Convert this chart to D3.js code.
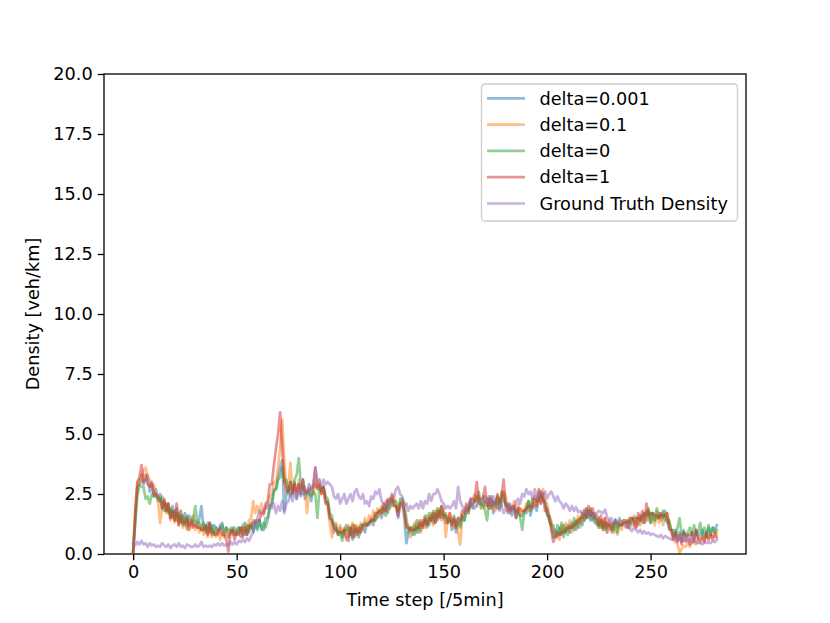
<!DOCTYPE html>
<html>
<head>
<meta charset="utf-8">
<script src="https://cdn.jsdelivr.net/npm/d3@7/dist/d3.min.js"></script>
<style>
  html, body { margin: 0; padding: 0; background: #fff; }
  svg { display: block; font-family: "DejaVu Sans", sans-serif; }
</style>
</head>
<body>
<div id="chart"></div>
<script>
// values, one per 5-min time step (0..282)
var delta0001 = [
  0.1,1.3,2.8,2.9,3.3,2.9,3.1,3.3,2.6,2.9,
  2.4,2.7,2.2,2.5,1.9,2.2,1.8,2.1,1.5,2.0,
  1.4,1.9,1.3,1.8,1.2,1.7,1.1,1.6,1.5,1.2,
  1.4,1.1,1.5,2.0,1.0,1.2,0.9,1.3,0.8,1.2,
  1.1,0.8,1.2,1.3,0.8,1.1,0.7,0.9,1.1,0.8,
  1.0,1.1,0.7,1.2,1.3,0.8,1.1,1.2,0.9,1.3,
  1.0,1.4,1.1,1.0,1.5,1.5,2.0,2.1,2.7,2.7,
  3.2,3.6,3.9,1.8,2.5,2.8,2.4,2.6,3.0,2.3,
  2.9,2.5,3.1,2.3,2.5,2.9,2.2,2.8,2.9,2.7,
  2.9,2.6,2.7,2.1,2.2,1.5,1.4,0.9,1.1,0.8,
  1.1,0.7,1.0,1.2,0.7,1.1,0.6,1.0,1.1,0.7,
  1.0,1.2,0.9,1.3,1.2,1.5,1.2,1.6,1.5,1.8,
  1.5,1.9,2.0,1.7,2.1,2.3,2.0,2.0,1.5,2.0,
  2.2,1.5,0.45,0.9,1.1,0.8,1.2,0.9,1.3,1.0,
  1.2,1.4,1.3,1.2,1.6,1.3,1.7,1.4,1.8,1.5,
  1.6,1.3,1.3,1.5,1.0,1.4,0.9,1.3,1.2,1.6,
  1.4,1.8,1.7,2.2,1.9,2.3,2.4,2.1,2.1,2.0,
  2.2,2.1,1.9,2.4,1.7,2.2,1.9,2.3,2.0,2.5,
  2.0,1.8,2.1,1.6,2.0,1.5,1.9,1.6,1.6,1.8,
  1.7,2.2,1.6,2.1,2.0,1.8,2.4,2.5,2.2,2.2,
  1.7,1.4,1.2,0.7,1.0,0.7,1.1,0.8,1.2,0.9,
  1.2,0.9,1.3,1.0,1.4,1.1,1.5,1.2,1.6,1.5,
  1.8,1.4,1.7,1.3,1.4,1.1,1.4,1.0,1.3,0.9,
  1.2,1.1,0.9,1.4,1.1,1.2,1.2,1.3,1.3,1.4,
  1.1,1.5,1.2,1.5,1.2,1.6,1.3,1.7,1.4,1.8,
  1.3,1.7,1.4,1.5,1.7,1.4,1.8,1.4,1.5,1.0,
  1.0,0.7,1.0,0.6,0.9,0.5,1.0,0.7,0.8,0.8,
  0.9,0.6,1.0,0.7,0.8,1.0,0.7,0.8,1.1,0.8,
  1.1,1.0,1.2
];

var delta01 = [
  0.1,1.7,2.9,3.1,3.0,3.5,3.6,3.2,3.1,2.8,
  2.9,2.5,2.2,1.3,2.0,2.2,1.7,2.1,1.4,1.8,
  1.3,1.7,1.2,1.8,1.1,1.5,1.0,1.4,1.1,1.6,
  1.0,1.3,0.9,1.2,0.8,1.1,0.7,1.1,0.7,1.0,
  0.7,1.0,0.6,0.9,0.7,1.0,0.7,1.1,0.8,0.9,
  0.8,0.9,1.1,0.8,1.2,0.9,1.4,1.5,2.2,1.7,
  2.0,1.7,2.1,1.6,2.0,1.9,2.4,2.5,3.0,3.0,
  3.6,4.4,5.6,3.9,2.8,2.8,3.8,2.5,2.9,2.4,
  3.1,2.7,2.7,2.8,1.7,2.6,2.6,2.5,3.0,2.7,
  3.1,2.5,2.8,2.1,2.0,1.3,0.7,1.1,1.3,0.8,
  1.2,0.8,1.1,0.7,1.2,0.8,1.3,0.9,1.2,0.8,
  1.3,1.0,1.5,1.2,1.6,1.3,1.8,1.4,1.9,1.6,
  2.0,1.7,2.2,1.8,2.3,2.0,2.4,2.0,1.8,2.1,
  2.3,1.7,1.2,1.2,0.7,1.1,1.3,1.0,1.4,0.9,
  1.4,1.1,1.6,1.3,1.7,1.2,1.8,1.5,1.9,1.4,
  1.9,0.7,1.4,1.7,1.3,1.1,1.4,0.9,0.4,1.5,
  1.8,2.0,1.7,2.2,2.3,2.5,2.0,2.4,2.1,1.9,
  2.2,2.3,1.9,2.2,1.9,1.8,2.4,1.9,2.3,2.6,
  2.4,1.8,1.9,1.8,2.2,1.7,2.1,1.6,1.8,1.8,
  2.1,1.8,2.0,2.3,2.0,2.2,2.6,2.1,2.7,2.2,
  2.1,1.6,1.4,0.9,0.9,0.8,0.6,1.2,0.9,1.3,
  1.0,1.4,0.9,1.3,1.2,1.6,1.1,1.7,1.4,1.9,
  1.6,1.8,1.5,1.5,1.4,1.1,1.4,1.0,1.5,0.9,
  1.2,0.9,1.3,1.0,0.8,1.3,1.0,1.4,1.1,1.2,
  1.5,1.2,1.6,1.1,1.5,1.2,1.6,1.3,1.8,1.4,
  1.7,1.4,1.2,1.8,1.3,1.7,1.2,1.6,1.7,1.3,
  1.0,0.6,0.5,0.4,0.05,0.2,0.35,0.3,0.45,0.3,
  0.5,0.45,0.4,0.65,0.45,0.75,0.55,0.85,0.65,0.7,
  0.75,0.7,0.9
];

var delta0 = [
  0.1,1.4,2.4,2.9,2.8,2.8,2.3,2.4,2.1,2.5,
  2.4,2.4,2.3,2.2,2.4,1.8,2.1,1.7,1.9,1.5,
  1.8,1.4,1.7,1.3,1.6,1.2,1.6,1.2,1.3,1.4,
  2.0,1.3,1.3,1.0,1.3,0.9,1.3,0.9,1.2,0.8,
  1.1,1.0,1.0,1.2,0.9,1.1,1.0,1.0,0.9,1.1,
  0.8,1.1,1.0,1.1,0.8,1.2,0.9,1.3,1.0,1.4,
  1.1,1.4,1.0,1.3,1.1,1.4,1.9,2.1,2.6,2.7,
  3.1,3.2,3.6,3.0,3.1,2.5,3.0,2.6,3.1,3.3,
  4.0,2.9,2.8,2.5,2.6,2.5,2.4,2.6,2.5,1.5,
  2.7,2.7,2.8,2.4,2.3,1.7,1.6,1.2,1.2,0.8,
  0.9,0.55,1.0,1.0,1.1,0.8,1.2,0.7,1.0,0.9,
  1.2,1.2,1.3,1.2,1.3,1.4,1.4,1.4,1.7,1.8,
  1.9,1.9,1.6,2.2,1.9,2.3,2.2,2.2,1.8,2.3,
  2.3,2.1,1.5,0.9,1.1,1.1,0.8,1.4,0.9,1.3,
  1.2,1.6,1.1,1.7,1.4,1.8,1.3,1.9,1.6,2.0,
  1.5,1.7,1.4,1.4,1.3,1.6,1.2,1.5,1.1,1.6,
  1.4,1.8,1.9,2.0,2.1,2.2,2.2,2.6,1.9,2.4,
  1.8,1.4,2.3,2.3,2.1,2.0,2.4,1.9,2.6,2.3,
  2.1,2.0,1.9,1.9,1.9,1.8,1.8,1.5,1.0,1.8,
  1.9,2.2,1.8,2.3,2.3,2.2,2.2,2.6,2.3,2.1,
  1.6,1.6,1.2,1.2,0.7,1.2,0.8,1.3,0.7,1.1,
  0.8,1.2,1.1,1.5,1.0,1.4,1.3,1.7,1.4,1.9,
  1.5,1.9,1.4,1.7,1.2,1.5,1.1,1.4,1.0,1.3,
  1.2,1.3,1.0,1.4,0.9,1.5,1.2,1.3,1.3,1.4,
  1.3,1.4,1.5,1.5,1.5,1.4,1.6,1.7,1.6,1.9,
  1.3,1.7,1.4,1.9,1.5,1.6,1.5,1.8,1.3,1.4,
  1.0,1.0,0.7,1.1,1.5,0.8,0.9,0.8,0.9,1.1,
  0.8,1.2,0.8,0.9,1.3,0.8,1.1,0.7,1.2,0.8,
  1.1,0.9,1.0
];

var delta1 = [
  0.1,1.8,3.0,3.2,3.7,3.0,3.3,2.9,2.8,3.0,
  2.5,2.5,2.4,2.3,1.9,2.3,1.8,2.1,1.5,1.8,
  1.4,2.1,1.2,1.6,1.3,1.3,1.5,1.0,1.4,1.1,
  1.2,1.1,1.1,1.0,1.0,1.2,0.8,1.3,0.9,0.9,
  0.8,0.9,1.1,0.8,0.8,0.6,0.1,0.9,1.0,0.6,
  0.9,0.8,1.1,0.7,1.1,0.8,1.2,1.1,1.4,1.3,
  1.4,1.4,1.7,1.7,2.1,2.2,2.9,2.9,3.7,4.4,
  5.0,5.9,4.4,3.1,2.6,2.6,3.0,2.5,2.9,2.6,
  2.9,2.5,3.1,2.6,2.6,2.7,2.7,2.8,3.6,2.8,
  2.9,2.5,2.8,2.2,2.1,1.5,1.4,1.1,1.0,0.9,
  0.9,0.9,1.0,0.6,0.55,1.1,0.7,1.2,0.8,1.1,
  0.9,1.2,1.2,1.2,1.3,1.4,1.4,1.7,1.7,1.8,
  1.7,2.1,1.8,2.3,2.2,2.5,2.0,2.0,1.6,2.1,
  2.1,1.8,1.1,1.1,1.0,1.0,1.0,1.1,1.1,1.4,
  1.1,1.5,1.2,1.5,1.4,1.7,1.3,1.8,1.5,2.0,
  1.6,1.6,1.3,1.7,1.2,1.5,1.1,1.5,1.4,1.8,
  1.7,2.1,1.8,2.3,2.3,2.2,3.0,2.2,2.3,2.3,
  2.8,2.0,2.4,1.9,2.2,2.1,2.5,2.1,2.4,3.1,
  2.0,2.1,1.7,2.0,2.0,1.5,1.9,1.9,1.8,1.8,
  1.9,2.0,2.0,1.9,2.4,2.0,2.7,2.1,2.5,1.8,
  1.9,1.5,1.0,0.5,0.7,0.9,0.8,0.9,0.9,1.0,
  1.1,1.1,1.1,1.2,1.3,1.4,1.5,1.5,1.8,1.5,
  2.0,1.6,1.9,1.5,1.6,1.2,1.6,1.1,1.5,1.1,
  1.4,1.0,1.3,1.3,1.3,1.2,1.2,1.4,1.4,1.1,
  1.5,1.5,1.4,1.1,1.7,1.4,1.8,1.3,2.1,1.6,
  1.7,1.7,1.6,1.6,1.5,1.7,1.6,1.6,1.7,1.1,
  1.0,0.6,0.9,0.5,0.8,0.4,0.9,0.5,0.8,0.4,
  0.9,0.5,1.0,0.6,0.6,0.7,0.5,0.9,0.6,0.8,
  0.6,0.9,0.7
];

var groundTruth = [
  0.45,0.35,0.5,0.4,0.55,0.4,0.45,0.3,0.45,0.35,
  0.4,0.3,0.35,0.3,0.45,0.35,0.3,0.4,0.25,0.35,
  0.4,0.3,0.45,0.3,0.35,0.25,0.4,0.35,0.3,0.3,
  0.4,0.3,0.35,0.5,0.3,0.35,0.3,0.35,0.3,0.4,
  0.35,0.45,0.35,0.45,0.35,0.4,0.35,0.5,0.4,0.5,
  0.4,0.55,0.5,0.6,0.5,0.65,0.55,0.75,0.9,1.2,
  1.5,1.8,1.7,1.8,1.9,2.1,2.0,1.9,2.1,1.7,
  2.0,1.8,2.2,1.7,2.1,2.2,2.5,2.2,2.6,2.3,
  2.7,2.4,2.5,2.7,2.5,2.6,2.8,2.9,3.6,3.0,
  3.1,2.8,3.1,2.9,3.0,2.9,2.8,2.4,2.3,2.5,
  2.1,2.3,2.5,2.1,2.3,2.5,2.2,2.6,2.7,2.4,
  2.3,2.5,2.1,2.2,2.0,2.4,2.3,2.6,2.5,2.7,
  2.2,2.1,1.9,2.2,2.1,2.4,2.4,2.7,2.8,2.5,
  2.4,2.0,2.1,1.8,2.0,1.9,2.0,2.1,1.9,2.2,
  1.9,2.2,2.1,2.5,2.2,2.5,2.5,2.7,2.5,2.2,
  2.1,1.9,2.0,1.9,2.0,2.2,1.9,2.8,2.2,2.0,
  1.8,1.9,2.0,2.3,2.0,1.9,2.0,2.2,2.1,2.2,
  2.4,2.3,2.2,2.0,2.4,2.1,2.0,1.8,2.0,1.7,
  1.9,1.7,2.0,1.9,1.8,2.2,2.3,2.1,2.5,2.4,
  2.7,2.5,2.6,2.3,2.7,2.4,2.3,2.6,2.5,2.6,
  2.3,2.5,2.6,2.4,2.2,2.4,2.2,2.1,1.9,2.1,
  2.0,1.8,2.0,1.8,1.95,1.75,1.8,1.65,1.85,1.7,
  1.75,1.6,1.5,1.65,1.7,1.8,1.75,1.7,1.85,1.55,
  1.4,1.5,1.3,1.45,1.3,1.4,1.35,1.3,1.15,1.1,
  1.05,0.95,1.1,1.0,0.9,1.0,0.85,0.95,0.85,0.9,
  0.8,0.85,0.8,0.75,0.7,0.8,0.65,0.75,0.7,0.65,
  0.6,0.65,0.6,0.55,0.6,0.6,0.55,0.6,0.55,0.6,
  0.5,0.55,0.5,0.45,0.5,0.4,0.5,0.45,0.5,0.45,
  0.55,0.5,0.6
];

var seriesNames = ["delta=0.001", "delta=0.1", "delta=0", "delta=1", "Ground Truth Density"];
var seriesValues = [delta0001, delta01, delta0, delta1, groundTruth];
var seriesColors = ["#1f77b4", "#ff7f0e", "#2ca02c", "#d62728", "#9467bd"];

var xTicks = [0, 50, 100, 150, 200, 250];
var yTicks = [0, 2.5, 5, 7.5, 10, 12.5, 15, 17.5, 20];

var width = 830,
    height = 623,
    margin = {top: 74, right: 84, bottom: 69, left: 104};
var plotW = width - margin.left - margin.right,
    plotH = height - margin.top - margin.bottom;

var nSteps = groundTruth.length;
var pad = (nSteps - 1) * 0.05;

var x = d3.scaleLinear()
    .domain([-pad, nSteps - 1 + pad])
    .range([0, plotW]);
var y = d3.scaleLinear()
    .domain([0, 20])
    .range([plotH, 0]);

var svg = d3.select("#chart").append("svg")
    .attr("width", width)
    .attr("height", height);

var g = svg.append("g")
    .attr("transform", "translate(" + margin.left + "," + margin.top + ")");

g.append("defs").append("clipPath")
    .attr("id", "plot-clip")
    .append("rect")
    .attr("width", plotW)
    .attr("height", plotH);

var line = d3.line()
    .x(function (d, i) { return x(i); })
    .y(function (d) { return y(d); });

g.append("g")
    .attr("clip-path", "url(#plot-clip)")
    .selectAll("path")
    .data(seriesValues)
    .enter().append("path")
    .attr("d", line)
    .attr("fill", "none")
    .attr("stroke", function (d, i) { return seriesColors[i]; })
    .attr("stroke-opacity", 0.5)
    .attr("stroke-width", 2.7)
    .attr("stroke-linejoin", "round")
    .attr("stroke-linecap", "square");

var xAxis = g.append("g")
    .attr("transform", "translate(0," + plotH + ")")
    .call(d3.axisBottom(x).tickValues(xTicks).tickFormat(d3.format("d"))
        .tickSize(6.3).tickPadding(5).tickSizeOuter(0));
var yAxis = g.append("g")
    .call(d3.axisLeft(y).tickValues(yTicks).tickFormat(d3.format(".1f"))
        .tickSize(6.3).tickPadding(5).tickSizeOuter(0));

[xAxis, yAxis].forEach(function (ax) {
  ax.select(".domain").remove();
  ax.selectAll("line").attr("stroke", "#000").attr("stroke-width", 1.3);
  ax.selectAll("text")
      .attr("fill", "#000")
      .style("font-family", "DejaVu Sans, sans-serif")
      .style("font-size", "17.7px");
});

// frame (spines)
g.append("rect")
    .attr("width", plotW)
    .attr("height", plotH)
    .attr("fill", "none")
    .attr("stroke", "#000")
    .attr("stroke-width", 1.3);

g.append("text")
    .attr("x", plotW / 2)
    .attr("y", plotH + 52)
    .attr("text-anchor", "middle")
    .style("font-size", "17.7px")
    .text("Time step [/5min]");

g.append("text")
    .attr("transform", "translate(" + (-65) + "," + (plotH / 2) + ") rotate(-90)")
    .attr("text-anchor", "middle")
    .style("font-size", "17.7px")
    .text("Density [veh/km]");

// legend
var legend = g.append("g")
    .attr("transform", "translate(" + (481.5 - margin.left) + "," + (84 - margin.top) + ")");

legend.append("rect")
    .attr("width", 256)
    .attr("height", 137)
    .attr("rx", 3.5)
    .attr("fill", "#fff")
    .attr("fill-opacity", 0.8)
    .attr("stroke", "#cccccc")
    .attr("stroke-width", 1.3);

var entry = legend.selectAll("g.entry")
    .data(seriesNames)
    .enter().append("g")
    .attr("class", "entry")
    .attr("transform", function (d, i) { return "translate(0," + (14.3 + i * 26.3) + ")"; });

entry.append("line")
    .attr("x1", 5.5)
    .attr("x2", 43.5)
    .attr("stroke", function (d, i) { return seriesColors[i]; })
    .attr("stroke-opacity", 0.5)
    .attr("stroke-width", 2.7);

entry.append("text")
    .attr("x", 58)
    .attr("dy", "0.35em")
    .style("font-size", "17.7px")
    .text(function (d) { return d; });
</script>
</body>
</html>
